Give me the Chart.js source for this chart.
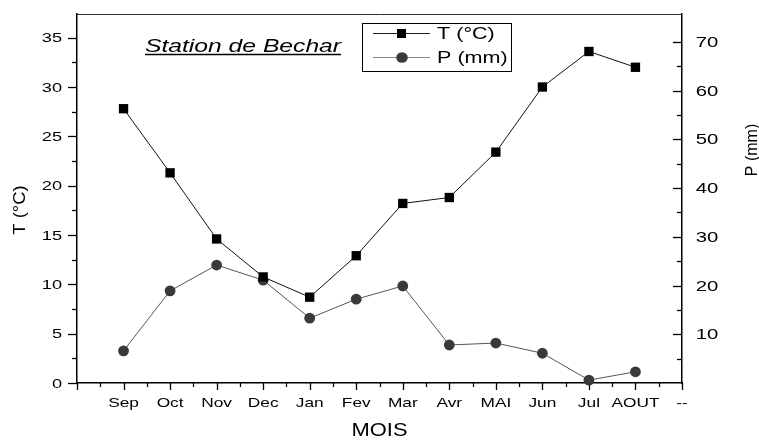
<!DOCTYPE html>
<html>
<head>
<meta charset="utf-8">
<script src="https://cdn.jsdelivr.net/npm/chart.js@4"></script>
<style>
  html, body { margin: 0; padding: 0; background: #fff; }
  #chartCanvas { display: block; }
</style>
</head>
<body>
<canvas id="chartCanvas" width="759" height="440"></canvas>
<script>
// Bechar station: monthly temperature and precipitation
const months = ['Sep', 'Oct', 'Nov', 'Dec', 'Jan', 'Fev', 'Mar', 'Avr', 'MAI', 'Jun', 'Jul', 'AOUT'];
const xLabels = [''].concat(months, ['--']);
const tempValues = [27.8, 21.3, 14.6, 10.75, 8.7, 12.9, 18.2, 18.8, 23.4, 30.0, 33.6, 32.0];
const precipValues = [6.6, 18.9, 24.2, 21.1, 13.3, 17.2, 19.9, 7.8, 8.2, 6.1, 0.6, 2.3];
const tempTicks = [0, 5, 10, 15, 20, 25, 30, 35];
const precipTicks = [10, 20, 30, 40, 50, 60, 70];

const FONT = '"Liberation Sans", Arial, sans-serif';

// text in the original is a bit wider than Arial, so stretch it horizontally
function wideText(ctx, text, x, y, size, sx, align, extra) {
    ctx.save();
    ctx.translate(x, y);
    ctx.scale(sx, 1);
    ctx.font = (extra || '') + size + 'px ' + FONT;
    ctx.textAlign = align;
    ctx.textBaseline = 'alphabetic';
    ctx.fillStyle = '#000';
    ctx.fillText(text, 0, 0);
    ctx.restore();
}

function line(ctx, x1, y1, x2, y2) {
    ctx.beginPath();
    ctx.moveTo(x1, y1);
    ctx.lineTo(x2, y2);
    ctx.stroke();
}

const decorPlugin = {
    id: 'decor',
    beforeDatasetsDraw(chart) {
        const ctx = chart.ctx;
        const area = chart.chartArea;
        const x = chart.scales.x, y = chart.scales.y, y1 = chart.scales.y1;

        ctx.save();
        // top frame line
        ctx.lineWidth = 1;
        ctx.strokeStyle = '#333';
        line(ctx, area.left, area.top + 0.5, area.right, area.top + 0.5);
        ctx.strokeStyle = '#000';
        ctx.lineWidth = 1.3;

        // left axis: ticks point out
        for (let v = 0; v <= 35; v += 2.5) {
            const py = Math.round(y.getPixelForValue(v)) + 0.5;
            const len = (v % 5 === 0) ? 9 : 5;
            line(ctx, area.left - len, py, area.left, py);
        }
        // right axis: ticks point in
        for (let v = 5; v <= 70; v += 5) {
            const py = Math.round(y1.getPixelForValue(v)) + 0.5;
            const len = (v % 10 === 0) ? 9 : 5;
            line(ctx, area.right - len, py, area.right, py);
        }
        // x axis ticks, major on categories, minor in between
        for (let i = 0; i < xLabels.length; i++) {
            const px = Math.round(x.getPixelForValue(i)) + 0.5;
            line(ctx, px, area.bottom, px, area.bottom + 7);
            if (i < xLabels.length - 1) {
                const mx = Math.round((x.getPixelForValue(i) + x.getPixelForValue(i + 1)) / 2) + 0.5;
                line(ctx, mx, area.bottom, mx, area.bottom + 4);
            }
        }
        ctx.restore();
    },
    afterDraw(chart) {
        const ctx = chart.ctx;
        const area = chart.chartArea;
        const x = chart.scales.x, y = chart.scales.y, y1 = chart.scales.y1;

        // tick labels
        tempTicks.forEach(v => {
            wideText(ctx, String(v), 62, y.getPixelForValue(v) + 4.6, 13, 1.4, 'right');
        });
        precipTicks.forEach(v => {
            wideText(ctx, String(v), 707, y1.getPixelForValue(v) + 5, 14, 1.45, 'center');
        });
        xLabels.forEach((lab, i) => {
            if (lab) wideText(ctx, lab, x.getPixelForValue(i), 407, 13, 1.33, 'center');
        });

        // axis titles
        wideText(ctx, 'MOIS', (area.left + area.right) / 2, 436, 18, 1.22, 'center');

        ctx.save();
        ctx.translate(25, 210);
        ctx.rotate(-Math.PI / 2);
        ctx.scale(1.15, 1);
        ctx.font = '16px ' + FONT;
        ctx.textAlign = 'center';
        ctx.fillStyle = '#000';
        ctx.fillText('T (°C)', 0, 0);
        ctx.restore();

        ctx.save();
        ctx.translate(757, 150);
        ctx.rotate(-Math.PI / 2);
        ctx.font = '16px ' + FONT;
        ctx.textAlign = 'center';
        ctx.fillStyle = '#000';
        ctx.fillText('P (mm)', 0, 0);
        ctx.restore();

        // station title, italic and underlined
        ctx.save();
        ctx.translate(145, 52);
        ctx.scale(1.37, 1);
        ctx.font = 'italic 18px ' + FONT;
        ctx.textAlign = 'left';
        ctx.fillStyle = '#000';
        ctx.fillText('Station de Bechar', 0, 0);
        const w = ctx.measureText('Station de Bechar').width;
        ctx.restore();
        ctx.save();
        ctx.strokeStyle = '#000';
        ctx.lineWidth = 1.5;
        line(ctx, 145, 54.5, 145 + w * 1.37, 54.5);
        ctx.restore();

        // legend box
        ctx.save();
        ctx.strokeStyle = '#000';
        ctx.lineWidth = 1;
        ctx.strokeRect(362.5, 23.5, 149, 48);
        const sets = chart.data.datasets;
        [33, 57].forEach((ly, k) => {
            const ds = sets[k];
            ctx.strokeStyle = k === 0 ? '#222' : '#888';
            ctx.lineWidth = 1;
            line(ctx, 373, ly + 0.5, 430, ly + 0.5);
            ctx.fillStyle = ds.pointBackgroundColor;
            if (ds.pointStyle === 'rect') {
                ctx.fillRect(397, ly - 4, 9, 9);
            } else {
                ctx.beginPath();
                ctx.ellipse(402, ly + 0.5, 5.8, 5.2, 0, 0, Math.PI * 2);
                ctx.fill();
            }
            wideText(ctx, ds.label, 437, ly + 6, 17, 1.27, 'left');
        });
        ctx.restore();
    }
};

const ctx = document.getElementById('chartCanvas').getContext('2d');
new Chart(ctx, {
    type: 'line',
    data: {
        labels: xLabels,
        datasets: [{
            label: 'T (°C)',
            data: [null].concat(tempValues, [null]),
            yAxisID: 'y',
            borderColor: '#111',
            borderWidth: 1,
            pointStyle: 'rect',
            pointRadius: 6.6,
            pointBackgroundColor: '#000',
            pointBorderWidth: 0,
            tension: 0,
            clip: false
        }, {
            label: 'P (mm)',
            data: [null].concat(precipValues, [null]),
            yAxisID: 'y1',
            borderColor: '#555',
            borderWidth: 1,
            pointStyle: 'circle',
            pointRadius: 5.4,
            pointBackgroundColor: '#3a3a3a',
            pointBorderWidth: 0,
            tension: 0,
            clip: false
        }]
    },
    options: {
        responsive: false,
        animation: false,
        events: [],
        layout: { padding: { top: 14, left: 0, right: 0, bottom: 0 } },
        plugins: {
            legend: { display: false },
            tooltip: { enabled: false },
            title: { display: false }
        },
        scales: {
            x: {
                type: 'category',
                offset: false,
                grid: { display: false },
                ticks: { display: false },
                border: { display: true, color: '#000', width: 1.5 },
                afterFit: s => { s.height = 57; }
            },
            y: {
                position: 'left',
                min: 0,
                max: 37.4,
                grid: { display: false },
                ticks: { display: false },
                border: { display: true, color: '#000', width: 1.5 },
                afterFit: s => { s.width = 77; }
            },
            y1: {
                position: 'right',
                min: 0,
                max: 75.7,
                grid: { display: false },
                ticks: { display: false },
                border: { display: true, color: '#000', width: 1.5 },
                afterFit: s => { s.width = 77; }
            }
        }
    },
    plugins: [decorPlugin]
});
</script>
</body>
</html>
